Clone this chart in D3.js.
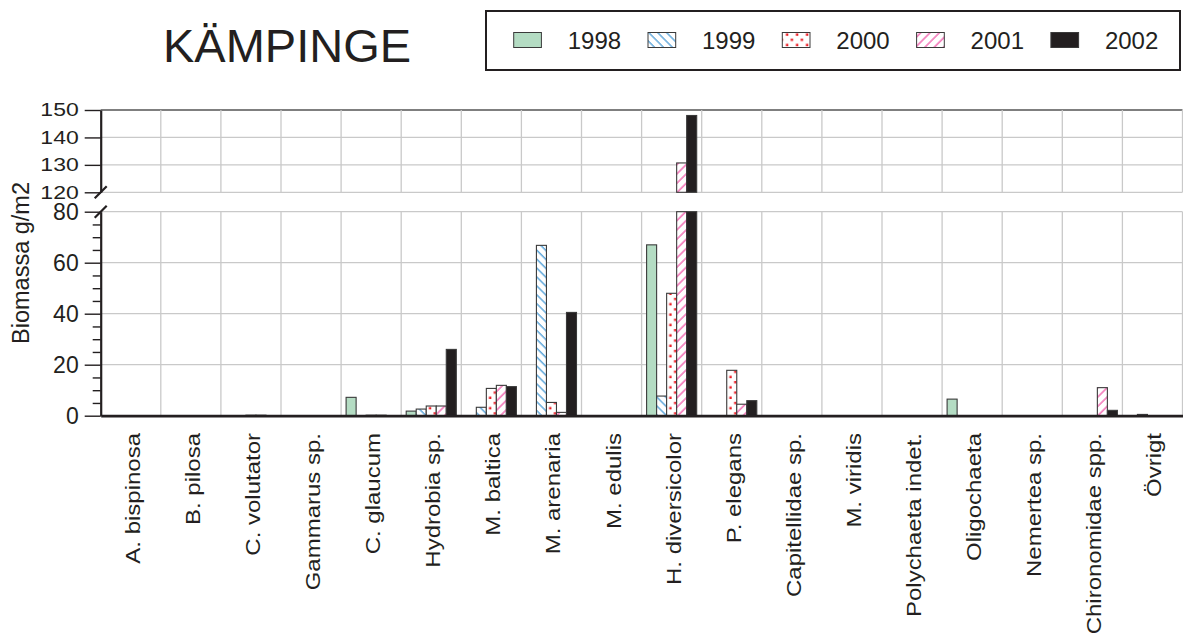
<!DOCTYPE html>
<html>
<head>
<meta charset="utf-8">
<script src="https://cdn.jsdelivr.net/npm/d3@7"></script>
<style>
html,body{margin:0;padding:0;background:#fff;}
svg{display:block;font-family:"Liberation Sans",Arial,Helvetica,sans-serif;}
</style>
</head>
<body>
<div id="chart"></div>
<script>
const categories = ["A. bispinosa","B. pilosa","C. volutator","Gammarus sp.","C. glaucum","Hydrobia sp.","M. baltica","M. arenaria","M. edulis","H. diversicolor","P. elegans","Capitellidae sp.","M. viridis","Polychaeta indet.","Oligochaeta","Nemertea sp.","Chironomidae spp.","Övrigt"];
const years = ["1998","1999","2000","2001","2002"];
const v1998 = [0,0,0,0,7.2,1.8,0,0,0,67,0,0,0,0,6.5,0,0,0];
const v1999 = [0,0,0,0,0,2.6,3.3,66.8,0,7.7,0,0,0,0,0,0,0,0.5];
const v2000 = [0,0,0.2,0,0.2,3.8,10.7,5.2,0,48,17.8,0,0,0,0,0,0,0];
const v2001 = [0,0,0.2,0,0.2,3.8,11.9,1.3,0,130.7,4.5,0,0,0,0,0,11,0];
const v2002 = [0,0,0,0,0,26,11.4,40.5,0,148,5.9,0,0,0,0,0,2.1,0];
const lowerTicks = [0,20,40,60,80];
const lowerMinor = [5,10,15,25,30,35,45,50,55,65,70,75];
const upperTicks = [120,130,140,150];
const title = "KÄMPINGE";
const yTitle = "Biomassa g/m2";

const series = [v1998,v1999,v2000,v2001,v2002];
const W = 1183, H = 633;
const ink = "#231f20";
const gridC = "#c9c9c9";

const svg = d3.select("#chart").append("svg").attr("width",W).attr("height",H);
const defs = svg.append("defs");

function hatch(id, color, angle, spacing){
  const p = defs.append("pattern").attr("id",id).attr("patternUnits","userSpaceOnUse")
    .attr("width",spacing).attr("height",10).attr("patternTransform",`rotate(${angle})`);
  p.append("rect").attr("width",spacing).attr("height",10).attr("fill","#fff");
  p.append("line").attr("x1",1).attr("x2",1).attr("y1",0).attr("y2",10)
    .attr("stroke",color).attr("stroke-width",1.2);
}
hatch("h1999","#3b93d3",-45,6.3);
hatch("h2001","#ee4aa2",45,6.6);
function dots(id, x0, y0){
  const p = defs.append("pattern").attr("id",id).attr("patternUnits","userSpaceOnUse")
    .attr("x",x0).attr("y",y0).attr("width",10).attr("height",10.4);
  p.append("rect").attr("width",10).attr("height",10.4).attr("fill","#fff");
  p.append("rect").attr("x",2.6).attr("y",1.4).attr("width",2.4).attr("height",2.4).attr("fill","#ec1c24");
  p.append("rect").attr("x",7.4).attr("y",6.6).attr("width",2.4).attr("height",2.4).attr("fill","#ec1c24");
}

const x0 = 100.7, x1 = 1182.5;
const x = d3.scaleBand().domain(categories).range([x0,x1]);
const xi = d3.scaleBand().domain(years).range([5, x.bandwidth()-5]);
const yLo = d3.scaleLinear().domain([0,80]).range([415.7,211.7]);
const yHi = d3.scaleLinear().domain([120,150]).range([192.3,110]);

function fillFor(yi, ci, bx){
  if(yi===0) return "#b4dcc3";
  if(yi===1) return "url(#h1999)";
  if(yi===2){ const id="d"+ci+"_"+Math.round(bx); dots(id,bx,0); return `url(#${id})`; }
  if(yi===3) return "url(#h2001)";
  return ink;
}

const g = svg.append("g");
lowerTicks.filter(t=>t>0).forEach(t=>{
  g.append("line").attr("x1",x0).attr("x2",x1).attr("y1",yLo(t)).attr("y2",yLo(t))
   .attr("stroke",gridC).attr("stroke-width",1.3);
});
upperTicks.forEach(t=>{
  g.append("line").attr("x1",x0).attr("x2",x1).attr("y1",yHi(t)).attr("y2",yHi(t))
   .attr("stroke", t===150 ? "#555" : gridC).attr("stroke-width", t===150 ? 1.6 : 1.3);
});
categories.forEach(c=>{
  const bx = x(c) + x.bandwidth();
  g.append("line").attr("x1",bx).attr("x2",bx).attr("y1",yLo(0)).attr("y2",yLo(80)).attr("stroke",gridC).attr("stroke-width",1.3);
  g.append("line").attr("x1",bx).attr("x2",bx).attr("y1",yHi(120)).attr("y2",yHi(150)).attr("stroke",gridC).attr("stroke-width",1.3);
});

const bars = svg.append("g");
series.forEach((vals, yi)=>{
  vals.forEach((v, ci)=>{
    if(v<=0) return;
    const c = categories[ci];
    const bx = x(c) + xi(years[yi]);
    const bw = xi.bandwidth();
    const lowTop = yLo(Math.min(v,80));
    bars.append("rect").attr("x",bx).attr("y",lowTop).attr("width",bw)
      .attr("height", Math.max(0.01, yLo(0)-lowTop))
      .attr("fill", fillFor(yi,ci,bx)).attr("stroke","#3a3a3a").attr("stroke-width",1.1);
    if(v>=120){
      const hiTop = yHi(Math.min(v,150));
      bars.append("rect").attr("x",bx).attr("y",hiTop).attr("width",bw)
        .attr("height", yHi(120)-hiTop)
        .attr("fill", fillFor(yi,ci,bx)).attr("stroke","#3a3a3a").attr("stroke-width",1.1);
    }
  });
});

const axLo = svg.append("g").attr("transform",`translate(${x0},0)`)
  .call(d3.axisLeft(yLo).tickValues(lowerTicks).tickSize(16).tickSizeOuter(0).tickPadding(6));
const axLoMinor = svg.append("g").attr("transform",`translate(${x0},0)`)
  .call(d3.axisLeft(yLo).tickValues(lowerMinor).tickSize(8).tickSizeOuter(0).tickFormat(""));
axLoMinor.select(".domain").remove();
const axHi = svg.append("g").attr("transform",`translate(${x0},0)`)
  .call(d3.axisLeft(yHi).tickValues(upperTicks).tickSize(16).tickSizeOuter(0).tickPadding(6));
[axLo,axLoMinor,axHi].forEach(a=>{
  a.selectAll(".domain").attr("stroke",ink).attr("stroke-width",2.2);
  a.selectAll(".tick line").attr("stroke",ink).attr("stroke-width",1.4);
  a.selectAll("text").attr("fill",ink).style("font-size","23px")
   .style("font-family",'"Liberation Sans",Arial,sans-serif');
});
axHi.selectAll("text").attr("transform","scale(1,0.8)");

const axB = svg.append("g").attr("transform",`translate(0,${yLo(0)})`)
  .call(d3.axisBottom(x).tickSize(0).tickSizeOuter(0));
axB.select(".domain").attr("stroke",ink).attr("stroke-width",2.7);
axB.selectAll("text").attr("fill",ink).attr("x",0).attr("y",0).attr("dy",0)
  .attr("text-anchor","end").style("font-size","20px")
  .style("font-family",'"Liberation Sans",Arial,sans-serif')
  .attr("transform","translate(9,17.3) rotate(-90) scale(1.2,1)");

[yHi(120), yLo(80)].forEach(yb=>{
  svg.append("line").attr("x1",x0-6).attr("y1",yb+6).attr("x2",x0+6).attr("y2",yb-6)
    .attr("stroke",ink).attr("stroke-width",2.2);
});

svg.append("text").attr("transform","translate(28.5,263) rotate(-90)")
  .attr("text-anchor","middle").attr("fill",ink).style("font-size","23.5px").text(yTitle);

svg.append("text").attr("x",163).attr("y",62).attr("fill",ink).style("font-size","47px").text(title);

svg.append("rect").attr("x",486).attr("y",11).attr("width",694).attr("height",59)
  .attr("fill","none").attr("stroke",ink).attr("stroke-width",2);
years.forEach((yr,i)=>{
  const lx = 513.7 + i*134.3;
  let f;
  if(i===2){ dots("legdots", lx+1, 32); f="url(#legdots)"; } else f = fillFor(i,-1,lx);
  svg.append("rect").attr("x",lx).attr("y",32.5).attr("width",27.7).attr("height",15)
    .attr("fill",f).attr("stroke","#3a3a3a").attr("stroke-width",1);
  svg.append("text").attr("x",lx+54).attr("y",49.3)
    .attr("fill",ink).style("font-size","24px").text(yr);
});
</script>
</body>
</html>
